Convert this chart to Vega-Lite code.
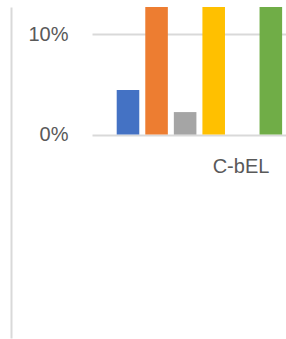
{
  "$schema": "https://vega.github.io/schema/vega-lite/v6.json",
  "autosize": "none",
  "padding": {"left": 92, "top": 7, "right": 0, "bottom": 1},
  "width": 194,
  "height": 331,
  "background": "white",
  "config": {"view": {"stroke": null}, "font": "Liberation Sans"},
  "data": {"values": [
    {"cat": "C-bEL", "series": "Series 1", "value": 0.0443},
    {"cat": "C-bEL", "series": "Series 2", "value": 0.16},
    {"cat": "C-bEL", "series": "Series 3", "value": 0.0224},
    {"cat": "C-bEL", "series": "Series 4", "value": 0.16},
    {"cat": "C-bEL", "series": "Series 6", "value": 0.16}
  ]},
  "layer": [
    {
      "mark": {"type": "bar", "clip": true},
      "encoding": {
        "x": {
          "field": "cat", "type": "nominal",
          "scale": {"domain": ["C-bEL"], "paddingInner": 0, "paddingOuter": 0.0659, "align": 0.961},
          "axis": {
            "title": null, "orient": "bottom", "offset": -203.5, "domain": false, "ticks": false, "grid": false,
            "labelAngle": 0, "labelFontSize": 20, "labelColor": "#595959", "labelPadding": 22, "labelOffset": 41.6,
            "labelFont": "Liberation Sans"
          }
        },
        "xOffset": {
          "field": "series", "type": "nominal",
          "scale": {"domain": ["Series 1", "Series 2", "Series 3", "Series 4", "Series 5", "Series 6"], "paddingInner": 0.21, "paddingOuter": 0.105}
        },
        "y": {
          "field": "value", "type": "quantitative",
          "scale": {"domain": [-0.2025, 0.127], "nice": false, "zero": false},
          "axis": {
            "title": null, "orient": "left", "values": [0, 0.1], "format": ".0%", "domain": false, "ticks": false,
            "grid": true, "gridColor": "#d9d9d9", "gridWidth": 2,
            "labelFontSize": 20, "labelColor": "#595959", "labelPadding": 24, "labelFont": "Liberation Sans"
          }
        },
        "color": {
          "field": "series", "type": "nominal", "legend": null,
          "scale": {"domain": ["Series 1", "Series 2", "Series 3", "Series 4", "Series 5", "Series 6"],
                    "range": ["#4472C4", "#ED7D31", "#A5A5A5", "#FFC000", "#5B9BD5", "#70AD47"]}
        }
      }
    },
    {
      "mark": {"type": "bar", "opacity": 0},
      "encoding": {
        "y": {
          "field": "value", "type": "quantitative",
          "axis": {
            "title": null, "orient": "left", "offset": 81, "domain": true, "domainColor": "#d9d9d9", "domainWidth": 2,
            "labels": false, "ticks": false, "grid": false
          }
        }
      }
    }
  ],
  "resolve": {"axis": {"y": "independent"}}
}
